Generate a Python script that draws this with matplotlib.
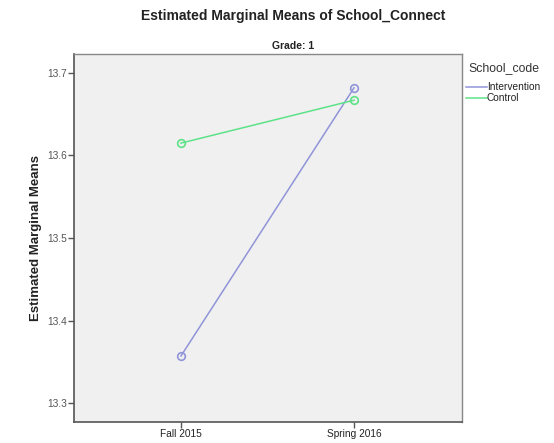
import matplotlib
matplotlib.use("Agg")
import matplotlib.pyplot as plt
from matplotlib.lines import Line2D

plt.rcParams['font.family'] = ['Liberation Sans', 'DejaVu Sans']

periods = ["Fall 2015", "Spring 2016"]
groups = ["Intervention", "Control"]
means = {
    "Intervention": [13.357, 13.682],
    "Control": [13.615, 13.667],
}
colors = {"Intervention": "#9094d8", "Control": "#5ee288"}
yticks = [13.3, 13.4, 13.5, 13.6, 13.7]

W, H = 554, 443
fig = plt.figure(figsize=(W / 100, H / 100), dpi=100)
ax = fig.add_axes([74 / W, 1 - 422 / H, 388 / W, 368 / H])
ax.set_facecolor("#f0f0f0")

x = list(range(len(periods)))
for g in groups:
    ax.plot(x, means[g], color=colors[g], lw=1.1, marker="o", ms=5.5,
            mfc="none", mec=colors[g], mew=1.2, label=g)

ax.set_xlim(-0.618, 1.624)
ax.set_ylim(13.277, 13.723)
ax.set_xticks(x)
ax.set_xticklabels(periods)
ax.set_yticks(yticks)
ax.set_yticklabels([f"{v:.1f}" for v in yticks])
ax.tick_params(axis="both", direction="out", length=4, width=1, color="#555555",
               labelsize=7.3, labelcolor="#555555", pad=1)
ax.tick_params(axis="x", labelcolor="#222222")
for side in ["left", "bottom"]:
    ax.spines[side].set_color("#555555")
    ax.spines[side].set_linewidth(1.2)
for side in ["top", "right"]:
    ax.spines[side].set_color("#888888")
    ax.spines[side].set_linewidth(1.0)

ax.set_ylabel("Estimated Marginal Means", fontsize=9.5, fontweight="bold",
              labelpad=4, color="#222222")

fig.text(293 / W, 1 - 16 / H, "Estimated Marginal Means of School_Connect",
         ha="center", va="center", fontsize=10, fontweight="bold", color="#222222")
fig.text(293 / W, 1 - 46 / H, "Grade: 1", ha="center", va="center",
         fontsize=7.5, fontweight="bold", color="#222222")

# legend, drawn by hand to sit where SPSS puts it
fig.text(468 / W, 1 - 68 / H, "School_code", ha="left", va="center",
         fontsize=8.8, color="#333333")
for i, g in enumerate(groups):
    yy = 1 - (87 + 11 * i) / H
    fig.add_artist(Line2D([466 / W, 487 / W], [yy, yy], color=colors[g], lw=1.1))
    fig.text(487 / W, yy, g, ha="left", va="center", fontsize=7.3, color="#222222")

fig.savefig("out.png", dpi=100)
